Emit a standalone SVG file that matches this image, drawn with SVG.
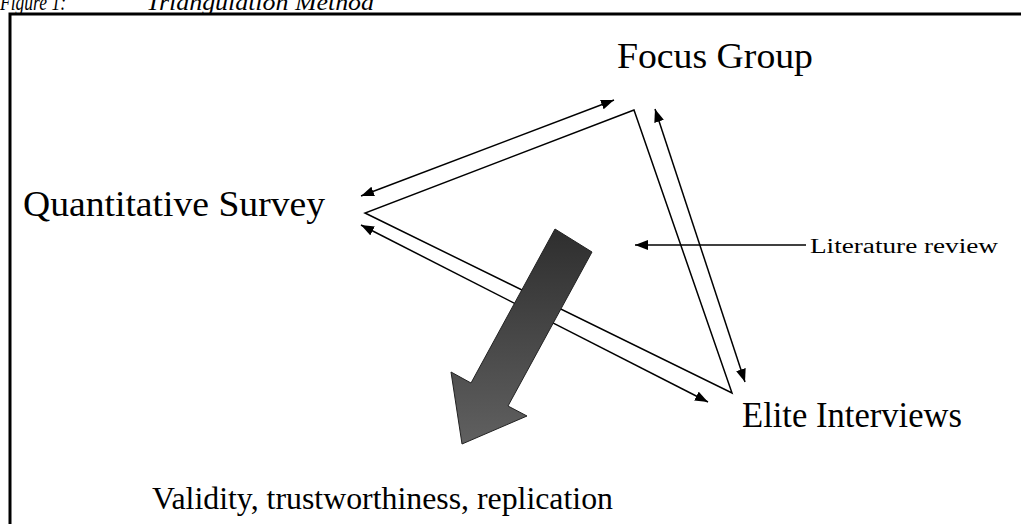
<svg xmlns="http://www.w3.org/2000/svg" width="1021" height="524" viewBox="0 0 1021 524">
<style>
  .serif { font-family: "Liberation Serif", "DejaVu Serif", serif; fill: #000; }
  .lbl { font-size: 35px; }
  .conn { stroke: #000; stroke-width: 1.5; fill: none; }
  .frame { stroke: #000; stroke-width: 3; fill: none; }
</style>
<defs>
  <marker id="ah" viewBox="0 0 13 10" refX="13" refY="5" markerWidth="13" markerHeight="10" markerUnits="userSpaceOnUse" orient="auto-start-reverse">
    <path d="M0,0 L13,5 L0,10 z" fill="#000"/>
  </marker>
  <linearGradient id="grayfill" x1="0" y1="0" x2="0" y2="1">
    <stop offset="0" stop-color="#2e2e2e"/>
    <stop offset="1" stop-color="#606060"/>
  </linearGradient>
</defs>

<rect width="1021" height="524" fill="#fff"/>

<g id="title">
  <text class="serif" x="0" y="10" font-size="24" font-style="italic" textLength="66" lengthAdjust="spacingAndGlyphs">Figure 1:</text>
  <text class="serif" x="146" y="10" font-size="24" font-style="italic" textLength="228" lengthAdjust="spacingAndGlyphs">Triangulation Method</text>
</g>

<g id="frame">
  <path class="frame" d="M10,524 L10,14 L1021,14"/>
</g>

<g id="connectors">
  <path id="triangle" class="conn" d="M634,110 L365,213 L732,393 Z"/>
  <line class="conn" x1="361" y1="196" x2="614" y2="100" marker-start="url(#ah)" marker-end="url(#ah)"/>
  <line class="conn" x1="361" y1="225" x2="708" y2="402" marker-start="url(#ah)" marker-end="url(#ah)"/>
  <line class="conn" x1="655" y1="109" x2="745" y2="382" marker-start="url(#ah)" marker-end="url(#ah)"/>
  <line class="conn" x1="806" y1="245" x2="635" y2="245" marker-end="url(#ah)"/>
</g>

<g id="big-arrow">
  <polygon points="555,229 592,252 508,406 527,416 462,444 451,372 471,383" fill="url(#grayfill)" stroke="#222" stroke-width="1"/>
</g>

<g id="node-focus-group">
  <text class="serif lbl" x="617" y="68" textLength="196" lengthAdjust="spacingAndGlyphs">Focus Group</text>
</g>
<g id="node-quantitative-survey">
  <text class="serif lbl" x="23" y="216" textLength="302" lengthAdjust="spacingAndGlyphs">Quantitative Survey</text>
</g>
<g id="node-elite-interviews">
  <text class="serif lbl" x="742" y="427" textLength="220" lengthAdjust="spacingAndGlyphs">Elite Interviews</text>
</g>
<g id="node-literature-review">
  <text class="serif" x="810" y="253" font-size="20" textLength="188" lengthAdjust="spacingAndGlyphs">Literature review</text>
</g>
<g id="node-validity">
  <text class="serif" x="152" y="509" font-size="31" textLength="461" lengthAdjust="spacingAndGlyphs">Validity, trustworthiness, replication</text>
</g>
</svg>
